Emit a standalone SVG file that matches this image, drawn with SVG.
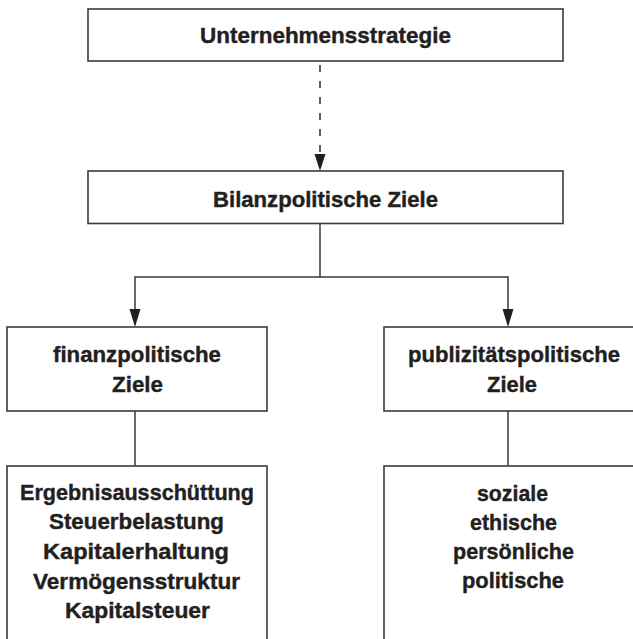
<svg xmlns="http://www.w3.org/2000/svg" width="633" height="639" viewBox="0 0 633 639">
  <style>
    .box { fill: #ffffff; stroke: #3a3a3a; stroke-width: 1.6; }
    .line { fill: none; stroke: #3a3a3a; stroke-width: 1.5; }
    .dash { fill: none; stroke: #2a2a2a; stroke-width: 1.5; stroke-dasharray: 7 9; }
    .head { fill: #231f20; stroke: none; }
    .label { font-family: "Liberation Sans", Arial, sans-serif; font-weight: 700; font-size: 22px; fill: #231f20; stroke: #231f20; stroke-width: 0.4; text-anchor: middle; }
  </style>

  <rect width="633" height="639" fill="#ffffff"/>

  <!-- connectors -->
  <g id="connectors">
    <line class="dash" x1="320" y1="65" x2="320" y2="155"/>
    <polygon class="head" points="314.5,154 325.5,154 320,171"/>
    <polyline class="line" points="320,224 320,277"/>
    <polyline class="line" points="135,310 135,277 508,277 508,310"/>
    <polygon class="head" points="129.5,309 140.5,309 135,327"/>
    <polygon class="head" points="502.5,309 513.5,309 508,327"/>
    <line class="line" x1="135" y1="411" x2="135" y2="466"/>
    <line class="line" x1="508" y1="411" x2="508" y2="466"/>
  </g>

  <!-- top level -->
  <g id="unternehmensstrategie">
    <rect class="box" x="88" y="9" width="475" height="52"/>
    <text class="label" x="325.5" y="43" textLength="251" lengthAdjust="spacingAndGlyphs">Unternehmensstrategie</text>
  </g>

  <g id="bilanzpolitische-ziele">
    <rect class="box" x="88" y="171" width="475" height="52.5"/>
    <text class="label" x="325.5" y="206.5" textLength="225" lengthAdjust="spacingAndGlyphs">Bilanzpolitische Ziele</text>
  </g>

  <!-- second level -->
  <g id="finanzpolitische-ziele">
    <rect class="box" x="7" y="327" width="260" height="84"/>
    <text class="label" x="137" y="362" textLength="168" lengthAdjust="spacingAndGlyphs">finanzpolitische</text>
    <text class="label" x="137.5" y="392" textLength="51" lengthAdjust="spacingAndGlyphs">Ziele</text>
  </g>

  <g id="publizitaetspolitische-ziele">
    <rect class="box" x="384" y="327" width="262" height="84"/>
    <text class="label" x="514" y="362" textLength="212" lengthAdjust="spacingAndGlyphs">publizitätspolitische</text>
    <text class="label" x="512" y="392" textLength="50" lengthAdjust="spacingAndGlyphs">Ziele</text>
  </g>

  <!-- third level -->
  <g id="finanzpolitische-inhalte">
    <rect class="box" x="7" y="466" width="260" height="190"/>
    <text class="label" x="137" y="500" textLength="234" lengthAdjust="spacingAndGlyphs">Ergebnisausschüttung</text>
    <text class="label" x="136.5" y="529" textLength="175" lengthAdjust="spacingAndGlyphs">Steuerbelastung</text>
    <text class="label" x="136" y="558.5" textLength="186" lengthAdjust="spacingAndGlyphs">Kapitalerhaltung</text>
    <text class="label" x="136.5" y="588.5" textLength="207" lengthAdjust="spacingAndGlyphs">Vermögensstruktur</text>
    <text class="label" x="137.5" y="618" textLength="145" lengthAdjust="spacingAndGlyphs">Kapitalsteuer</text>
  </g>

  <g id="publizitaetspolitische-inhalte">
    <rect class="box" x="384" y="466" width="262" height="190"/>
    <text class="label" x="512.5" y="501" textLength="71" lengthAdjust="spacingAndGlyphs">soziale</text>
    <text class="label" x="513.5" y="530" textLength="87" lengthAdjust="spacingAndGlyphs">ethische</text>
    <text class="label" x="513.5" y="558.5" textLength="121" lengthAdjust="spacingAndGlyphs">persönliche</text>
    <text class="label" x="513" y="587.5" textLength="102" lengthAdjust="spacingAndGlyphs">politische</text>
  </g>
</svg>
